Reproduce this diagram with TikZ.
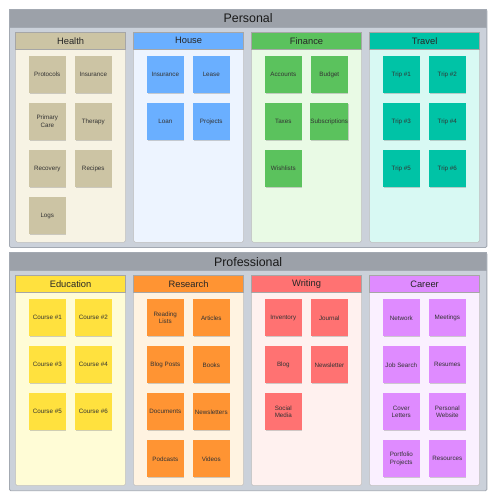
\documentclass[tikz,border=0pt]{standalone}
\usepackage{fontspec}
\setmainfont{Liberation Sans}
\usetikzlibrary{shadows}

\definecolor{panelbg}{HTML}{CBD1DA}
\definecolor{panelbd}{HTML}{A3A9B2}
\definecolor{hdrbg}{HTML}{9CA1A9}
\definecolor{txt}{HTML}{333333}
\definecolor{healthc}{HTML}{CCC4A4}
\definecolor{healthb}{HTML}{F7F3E4}
\definecolor{housec}{HTML}{6AAFFF}
\definecolor{houseb}{HTML}{EDF4FF}
\definecolor{financec}{HTML}{5BC25D}
\definecolor{financeb}{HTML}{E9FAE5}
\definecolor{travelc}{HTML}{00C3A6}
\definecolor{travelb}{HTML}{D8F9F3}
\definecolor{educc}{HTML}{FFE13E}
\definecolor{educb}{HTML}{FFFCD6}
\definecolor{resc}{HTML}{FF9433}
\definecolor{resb}{HTML}{FFF3E1}
\definecolor{writc}{HTML}{FF7272}
\definecolor{writb}{HTML}{FFF1EF}
\definecolor{carc}{HTML}{DF8BFF}
\definecolor{carb}{HTML}{FAF0FF}

\tikzset{
  panel/.style={draw=panelbd, line width=0.6pt, fill=panelbg, rounded corners=1pt,
    anchor=north west, minimum width=358.1pt, minimum height=178.5pt, inner sep=0pt},
  panelhdr/.style={draw=panelbd, line width=0.6pt, fill=hdrbg, anchor=north west,
    minimum width=358.1pt, minimum height=13.5pt, inner sep=0pt,
    font=\fontsize{9.3}{11}\selectfont, text=black!90},
  colbody/.style={draw=black!25, line width=0.4pt, rounded corners=1.2pt,
    anchor=north west, minimum width=82.5pt, minimum height=157.5pt, inner sep=0pt},
  colhdr/.style={draw=black!35, line width=0.4pt, anchor=north west,
    minimum width=82.5pt, minimum height=12.75pt, inner sep=0pt,
    font=\fontsize{7}{8}\selectfont, text=black!85},
  note/.style={minimum width=27.4pt, minimum height=27.75pt, inner sep=0pt,
    align=center, font=\fontsize{4.7}{5.7}\selectfont, text=txt,
    drop shadow={shadow xshift=0.35pt, shadow yshift=-0.6pt, opacity=0.3, fill=black!60}},
}

% name, col left, panel top, title, note colour, body colour
\newcommand{\mkcolumn}[6]{%
  \node[colbody, fill=#6] (#1) at (#2,#3+23) {};
  \node[colhdr, fill=#5] (#1h) at (#2,#3+23) {#4};
}
% name, col left, panel top, c, r, colour, text
\newcommand{\mknote}[7]{%
  \node[note, fill=#6] (#1) at ({#2+32+46*#4},{#3+65.5+47*#5}) {#7};
}

\begin{document}
\begin{tikzpicture}[x=0.75pt,y=-0.75pt]
\useasboundingbox[fill=white] (0,0) rectangle (496,500);

% ---------- Personal ----------
\node[panel] (personal) at (9,9) {};
\node[panelhdr] (personalh) at (9,9) {Personal};

\mkcolumn{health}{15.3}{9}{Health}{healthc}{healthb}
\mkcolumn{house}{133.3}{9}{House}{housec}{houseb}
\mkcolumn{finance}{251.3}{9}{Finance}{financec}{financeb}
\mkcolumn{travel}{369.3}{9}{Travel}{travelc}{travelb}

\mknote{h1}{15.3}{9}{0}{0}{healthc}{Protocols}
\mknote{h2}{15.3}{9}{1}{0}{healthc}{Insurance}
\mknote{h3}{15.3}{9}{0}{1}{healthc}{Primary\\Care}
\mknote{h4}{15.3}{9}{1}{1}{healthc}{Therapy}
\mknote{h5}{15.3}{9}{0}{2}{healthc}{Recovery}
\mknote{h6}{15.3}{9}{1}{2}{healthc}{Recipes}
\mknote{h7}{15.3}{9}{0}{3}{healthc}{Logs}

\mknote{o1}{133.3}{9}{0}{0}{housec}{Insurance}
\mknote{o2}{133.3}{9}{1}{0}{housec}{Lease}
\mknote{o3}{133.3}{9}{0}{1}{housec}{Loan}
\mknote{o4}{133.3}{9}{1}{1}{housec}{Projects}

\mknote{f1}{251.3}{9}{0}{0}{financec}{Accounts}
\mknote{f2}{251.3}{9}{1}{0}{financec}{Budget}
\mknote{f3}{251.3}{9}{0}{1}{financec}{Taxes}
\mknote{f4}{251.3}{9}{1}{1}{financec}{Subscriptions}
\mknote{f5}{251.3}{9}{0}{2}{financec}{Wishlists}

\mknote{t1}{369.3}{9}{0}{0}{travelc}{Trip \#1}
\mknote{t2}{369.3}{9}{1}{0}{travelc}{Trip \#2}
\mknote{t3}{369.3}{9}{0}{1}{travelc}{Trip \#3}
\mknote{t4}{369.3}{9}{1}{1}{travelc}{Trip \#4}
\mknote{t5}{369.3}{9}{0}{2}{travelc}{Trip \#5}
\mknote{t6}{369.3}{9}{1}{2}{travelc}{Trip \#6}

% ---------- Professional ----------
\node[panel] (professional) at (9,252.3) {};
\node[panelhdr] (professionalh) at (9,252.3) {Professional};

\mkcolumn{education}{15.3}{252.3}{Education}{educc}{educb}
\mkcolumn{research}{133.3}{252.3}{Research}{resc}{resb}
\mkcolumn{writing}{251.3}{252.3}{Writing}{writc}{writb}
\mkcolumn{career}{369.3}{252.3}{Career}{carc}{carb}

\mknote{e1}{15.3}{252.3}{0}{0}{educc}{Course \#1}
\mknote{e2}{15.3}{252.3}{1}{0}{educc}{Course \#2}
\mknote{e3}{15.3}{252.3}{0}{1}{educc}{Course \#3}
\mknote{e4}{15.3}{252.3}{1}{1}{educc}{Course \#4}
\mknote{e5}{15.3}{252.3}{0}{2}{educc}{Course \#5}
\mknote{e6}{15.3}{252.3}{1}{2}{educc}{Course \#6}

\mknote{r1}{133.3}{252.3}{0}{0}{resc}{Reading\\Lists}
\mknote{r2}{133.3}{252.3}{1}{0}{resc}{Articles}
\mknote{r3}{133.3}{252.3}{0}{1}{resc}{Blog Posts}
\mknote{r4}{133.3}{252.3}{1}{1}{resc}{Books}
\mknote{r5}{133.3}{252.3}{0}{2}{resc}{Documents}
\mknote{r6}{133.3}{252.3}{1}{2}{resc}{Newsletters}
\mknote{r7}{133.3}{252.3}{0}{3}{resc}{Podcasts}
\mknote{r8}{133.3}{252.3}{1}{3}{resc}{Videos}

\mknote{w1}{251.3}{252.3}{0}{0}{writc}{Inventory}
\mknote{w2}{251.3}{252.3}{1}{0}{writc}{Journal}
\mknote{w3}{251.3}{252.3}{0}{1}{writc}{Blog}
\mknote{w4}{251.3}{252.3}{1}{1}{writc}{Newsletter}
\mknote{w5}{251.3}{252.3}{0}{2}{writc}{Social\\Media}

\mknote{c1}{369.3}{252.3}{0}{0}{carc}{Network}
\mknote{c2}{369.3}{252.3}{1}{0}{carc}{Meetings}
\mknote{c3}{369.3}{252.3}{0}{1}{carc}{Job Search}
\mknote{c4}{369.3}{252.3}{1}{1}{carc}{Resumes}
\mknote{c5}{369.3}{252.3}{0}{2}{carc}{Cover\\Letters}
\mknote{c6}{369.3}{252.3}{1}{2}{carc}{Personal\\Website}
\mknote{c7}{369.3}{252.3}{0}{3}{carc}{Portfolio\\Projects}
\mknote{c8}{369.3}{252.3}{1}{3}{carc}{Resources}
\end{tikzpicture}
\end{document}
